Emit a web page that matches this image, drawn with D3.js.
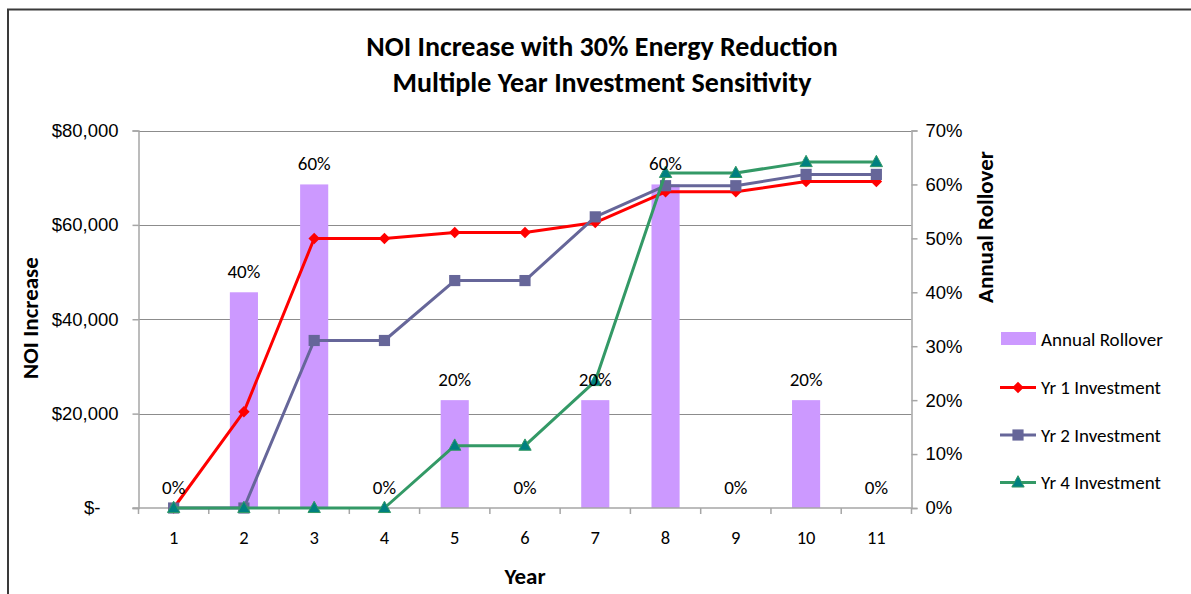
<!DOCTYPE html>
<html>
<head>
<meta charset="utf-8">
<script src="https://cdn.jsdelivr.net/npm/d3@7"></script>
<style>
  html, body { margin: 0; padding: 0; background: #fff; }
  svg { display: block; font-family: Carlito, Lato, "Liberation Sans", sans-serif; }
</style>
</head>
<body>
<svg id="chart" width="1191" height="594"></svg>
<script>
// Years on the category axis
const years = [1, 2, 3, 4, 5, 6, 7, 8, 9, 10, 11];
// Share of leases rolling over each year (%)
const rollover = [0, 40, 60, 0, 20, 0, 20, 60, 0, 20, 0];
// NOI increase ($) by first investment year
const yr1Investment = [0, 20400, 57100, 57100, 58400, 58400, 60500, 67000, 67000, 69200, 69200];
const yr2Investment = [0, 0, 35500, 35500, 48200, 48200, 61700, 68300, 68300, 70700, 70700];
const yr4Investment = [0, 0, 0, 0, 13200, 13200, 26900, 71000, 71000, 73300, 73300];
// Axis ticks
const noiTicks = [0, 20000, 40000, 60000, 80000];
const pctTicks = [0, 10, 20, 30, 40, 50, 60, 70];

const titleLines = ["NOI Increase with 30% Energy Reduction", "Multiple Year Investment Sensitivity"];

const svg = d3.select("#chart");
const axisGrey = "#a6a6a6";
const gridGrey = "#8c8c8c";
const labelSize = 19;
const tickSize = 18.5;
const axisTitleSize = 23;

// marker shapes: square-on-point diamond and an equal-sided triangle
const rhombus = {
  draw(ctx, size) {
    const r = Math.sqrt(size / 2);
    ctx.moveTo(0, -r); ctx.lineTo(r, 0); ctx.lineTo(0, r); ctx.lineTo(-r, 0); ctx.closePath();
  }
};
const triangle = {
  draw(ctx, size) {
    const h = Math.sqrt(size * 2 * 0.92);
    const w = h / 0.92;
    ctx.moveTo(0, -h * 0.6); ctx.lineTo(w / 2, h * 0.4); ctx.lineTo(-w / 2, h * 0.4); ctx.closePath();
  }
};

// chart frame
svg.append("path")
  .attr("d", "M8,600 L8,9.5 L1200,9.5")
  .attr("fill", "none")
  .attr("stroke", "#3a3a3a")
  .attr("stroke-width", 2);

const plot = { left: 138.5, right: 911.5, top: 130.5, bottom: 508 };

const x = d3.scaleBand().domain(years).range([plot.left, plot.right]).paddingInner(0).paddingOuter(0);
const yL = d3.scaleLinear().domain([0, 80000]).range([plot.bottom, plot.top]);
const yR = d3.scaleLinear().domain([0, 70]).range([plot.bottom, plot.top]);

// title
svg.append("g").selectAll("text").data(titleLines).join("text")
  .attr("x", 602)
  .attr("y", (d, i) => 56 + i * 36)
  .attr("text-anchor", "middle")
  .attr("font-size", 28)
  .attr("font-weight", "bold")
  .attr("fill", "#000")
  .text(d => d);

// horizontal gridlines
svg.append("g").selectAll("line").data(noiTicks.filter(d => d > 0)).join("line")
  .attr("x1", plot.left).attr("x2", plot.right)
  .attr("y1", d => Math.round(yL(d)) + 0.5).attr("y2", d => Math.round(yL(d)) + 0.5)
  .attr("stroke", gridGrey).attr("stroke-width", 1);

// rollover bars
const barW = x.bandwidth() * 0.4;
svg.append("g").selectAll("rect").data(years).join("rect")
  .attr("x", (d) => x(d) + (x.bandwidth() - barW) / 2)
  .attr("width", barW)
  .attr("y", (d, i) => yR(rollover[i]))
  .attr("height", (d, i) => plot.bottom - yR(rollover[i]))
  .attr("fill", "#cc99ff");

// left axis
const leftAxis = svg.append("g")
  .attr("transform", `translate(${plot.left},0)`)
  .call(d3.axisLeft(yL).tickValues(noiTicks).tickSize(6).tickPadding(14)
    .tickFormat(d => d === 0 ? "$-" : "$" + d3.format(",")(d)));
leftAxis.select(".domain").attr("stroke", axisGrey).attr("stroke-width", 1.5);
leftAxis.selectAll(".tick line").attr("stroke", axisGrey).attr("stroke-width", 1.5);
leftAxis.selectAll(".tick text").attr("font-size", tickSize).attr("fill", "#000").attr("font-family", null);
leftAxis.selectAll(".tick text").filter(d => d === 0).attr("dx", -18);

// right axis
const rightAxis = svg.append("g")
  .attr("transform", `translate(${plot.right},0)`)
  .call(d3.axisRight(yR).tickValues(pctTicks).tickSize(6).tickPadding(8)
    .tickFormat(d => d + "%"));
rightAxis.select(".domain").attr("stroke", axisGrey).attr("stroke-width", 1.5);
rightAxis.selectAll(".tick line").attr("stroke", axisGrey).attr("stroke-width", 1.5);
rightAxis.selectAll(".tick text").attr("font-size", tickSize).attr("fill", "#000").attr("font-family", null);

// bottom axis: ticks sit on category boundaries
const bottom = svg.append("g").attr("transform", `translate(0,${plot.bottom})`);
bottom.append("line")
  .attr("x1", plot.left - 6).attr("x2", plot.right)
  .attr("stroke", axisGrey).attr("stroke-width", 1.5);
const bounds = years.map(d => x(d)).concat([plot.right]);
bottom.selectAll(".bt").data(bounds).join("line")
  .attr("class", "bt")
  .attr("x1", d => d).attr("x2", d => d)
  .attr("y1", 0).attr("y2", 6)
  .attr("stroke", axisGrey).attr("stroke-width", 1.5);
bottom.selectAll(".bl").data(years).join("text")
  .attr("class", "bl")
  .attr("x", d => x(d) + x.bandwidth() / 2)
  .attr("y", 36)
  .attr("text-anchor", "middle")
  .attr("font-size", tickSize)
  .text(d => d);

// axis titles
svg.append("text")
  .attr("transform", "translate(38,318) rotate(-90)")
  .attr("text-anchor", "middle")
  .attr("font-size", axisTitleSize).attr("font-weight", "bold")
  .text("NOI Increase");
svg.append("text")
  .attr("transform", "translate(993,227) rotate(-90)")
  .attr("text-anchor", "middle")
  .attr("font-size", axisTitleSize).attr("font-weight", "bold")
  .text("Annual Rollover");
svg.append("text")
  .attr("x", 525).attr("y", 584)
  .attr("text-anchor", "middle")
  .attr("font-size", axisTitleSize).attr("font-weight", "bold")
  .text("Year");

// investment lines
const series = [
  { name: "Yr 1 Investment", values: yr1Investment, stroke: "#ff0000", fill: "#ff0000", symbol: rhombus, size: 66, edge: "none" },
  { name: "Yr 2 Investment", values: yr2Investment, stroke: "#666699", fill: "#666699", symbol: d3.symbolSquare, size: 125, edge: "none" },
  { name: "Yr 4 Investment", values: yr4Investment, stroke: "#339966", fill: "#008080", symbol: triangle, size: 70, edge: "#339966" }
];
const cx = d => x(d) + x.bandwidth() / 2;
const line = d3.line().x(d => cx(d.year)).y(d => yL(d.v));

const sg = svg.append("g").selectAll("g").data(series).join("g");
sg.append("path")
  .attr("d", s => line(years.map((yv, i) => ({ year: yv, v: s.values[i] }))))
  .attr("fill", "none")
  .attr("stroke", s => s.stroke)
  .attr("stroke-width", 3)
  .attr("stroke-linejoin", "round");
sg.each(function (s) {
  const shape = d3.symbol().type(s.symbol).size(s.size);
  d3.select(this).selectAll("path.m").data(years.map((yv, i) => ({ year: yv, v: s.values[i] }))).join("path")
    .attr("class", "m")
    .attr("d", shape)
    .attr("transform", d => `translate(${cx(d.year)},${yL(d.v)})`)
    .attr("fill", s.fill)
    .attr("stroke", s.edge)
    .attr("stroke-width", 1);
});

// rollover value labels
svg.append("g").selectAll("text").data(years).join("text")
  .attr("x", d => cx(d))
  .attr("y", (d, i) => yR(rollover[i]) - 14)
  .attr("text-anchor", "middle")
  .attr("font-size", labelSize)
  .text((d, i) => rollover[i] + "%");

// legend
const legend = svg.append("g");
legend.append("rect")
  .attr("x", 1001).attr("y", 332).attr("width", 35).attr("height", 13)
  .attr("fill", "#cc99ff");
legend.append("text")
  .attr("x", 1041).attr("y", 345.5)
  .attr("font-size", labelSize)
  .text("Annual Rollover");
series.forEach((s, i) => {
  const ly = 387.5 + i * 47.5;
  const g = legend.append("g");
  g.append("line")
    .attr("x1", 1000).attr("x2", 1036).attr("y1", ly).attr("y2", ly)
    .attr("stroke", s.stroke).attr("stroke-width", 3);
  g.append("path")
    .attr("d", d3.symbol().type(s.symbol).size(s.size)())
    .attr("transform", `translate(1018,${ly})`)
    .attr("fill", s.fill)
    .attr("stroke", s.edge);
  g.append("text")
    .attr("x", 1041).attr("y", ly + 6.5)
    .attr("font-size", labelSize)
    .text(s.name);
});
</script>
</body>
</html>
